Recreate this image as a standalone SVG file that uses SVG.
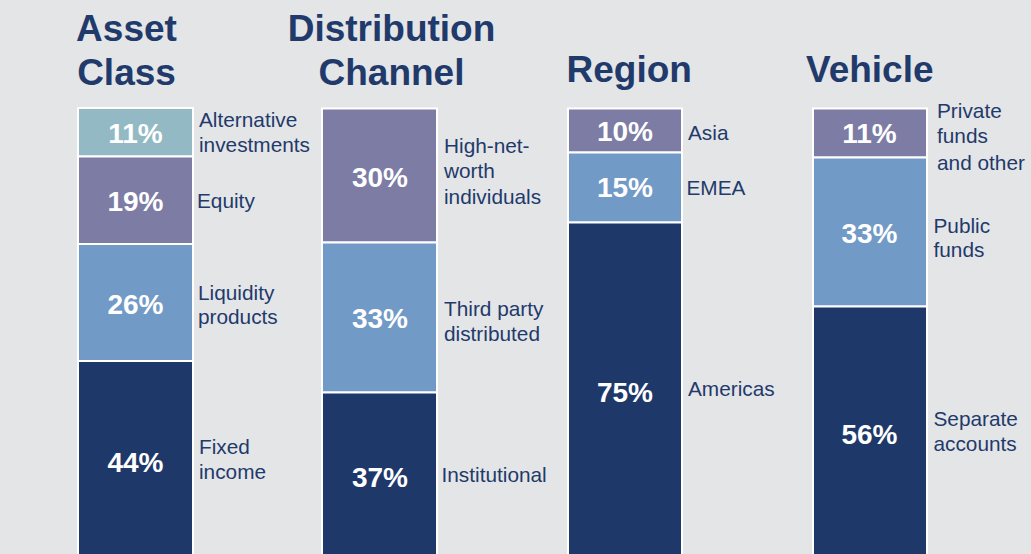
<svg xmlns="http://www.w3.org/2000/svg" width="1031" height="554" viewBox="0 0 1031 554">
<style>
.t{font-family:"Liberation Sans",Arial,sans-serif;font-weight:bold;font-size:37px;fill:#1f3a6b}
.p{font-family:"Liberation Sans",Arial,sans-serif;font-weight:bold;font-size:28px;fill:#ffffff;text-anchor:middle}
.l{font-family:"Liberation Sans",Arial,sans-serif;font-size:20.8px;fill:#1f3a6b}
.s{stroke:#ffffff;stroke-width:2}
.teal{fill:#93bac4}.pur{fill:#7c7ca5}.blu{fill:#729ac6}.nav{fill:#1f386a}
</style>
<rect width="1031" height="554" fill="#e4e5e7"/>
<g id="asset-class">
<text class="t" x="126.5" y="41" text-anchor="middle">Asset</text>
<text class="t" x="126.5" y="85" text-anchor="middle">Class</text>
<rect class="s teal" x="78" y="108" width="115" height="48.5"/>
<rect class="s pur" x="78" y="156.5" width="115" height="87.5"/>
<rect class="s blu" x="78" y="244" width="115" height="117"/>
<rect class="s nav" x="78" y="361" width="115" height="200"/>
<text class="p" x="135.5" y="143">11%</text>
<text class="p" x="135.5" y="210.5">19%</text>
<text class="p" x="135.5" y="314">26%</text>
<text class="p" x="135.5" y="471.5">44%</text>
<text class="l" x="199" y="126.5">Alternative</text>
<text class="l" x="199" y="151.5">investments</text>
<text class="l" x="197" y="208">Equity</text>
<text class="l" x="198" y="299.5">Liquidity</text>
<text class="l" x="198" y="324">products</text>
<text class="l" x="199" y="454">Fixed</text>
<text class="l" x="199" y="478.5">income</text>
</g>
<g id="distribution-channel">
<text class="t" x="391.5" y="41" text-anchor="middle">Distribution</text>
<text class="t" x="391.5" y="85" text-anchor="middle">Channel</text>
<rect class="s pur" x="322" y="108.5" width="115" height="134"/>
<rect class="s blu" x="322" y="242.5" width="115" height="150"/>
<rect class="s nav" x="322" y="392.5" width="115" height="170"/>
<text class="p" x="380" y="186.5">30%</text>
<text class="p" x="380" y="328">33%</text>
<text class="p" x="380" y="487">37%</text>
<text class="l" x="444" y="153">High-net-</text>
<text class="l" x="444" y="178">worth</text>
<text class="l" x="444" y="203.5">individuals</text>
<text class="l" x="444" y="315.5">Third party</text>
<text class="l" x="444" y="340.5">distributed</text>
<text class="l" x="441.5" y="481.5">Institutional</text>
</g>
<g id="region">
<text class="t" x="566.5" y="82">Region</text>
<rect class="s pur" x="568" y="108.5" width="114" height="44"/>
<rect class="s blu" x="568" y="152.5" width="114" height="70"/>
<rect class="s nav" x="568" y="222.5" width="114" height="340"/>
<text class="p" x="625" y="141">10%</text>
<text class="p" x="625" y="197">15%</text>
<text class="p" x="625" y="401.5">75%</text>
<text class="l" x="688" y="140">Asia</text>
<text class="l" x="686.5" y="195">EMEA</text>
<text class="l" x="688" y="395.5">Americas</text>
</g>
<g id="vehicle">
<text class="t" x="806" y="82">Vehicle</text>
<rect class="s pur" x="813" y="108.5" width="114" height="49"/>
<rect class="s blu" x="813" y="157.5" width="114" height="149"/>
<rect class="s nav" x="813" y="306.5" width="114" height="260"/>
<text class="p" x="869.5" y="143">11%</text>
<text class="p" x="869.5" y="243">33%</text>
<text class="p" x="869.5" y="444">56%</text>
<text class="l" x="937" y="118">Private</text>
<text class="l" x="937" y="143">funds</text>
<text class="l" x="937" y="169.5">and other</text>
<text class="l" x="933.5" y="233">Public</text>
<text class="l" x="933.5" y="256.5">funds</text>
<text class="l" x="933.5" y="426">Separate</text>
<text class="l" x="933.5" y="450.5">accounts</text>
</g>
<g id="connectors"/>
</svg>
